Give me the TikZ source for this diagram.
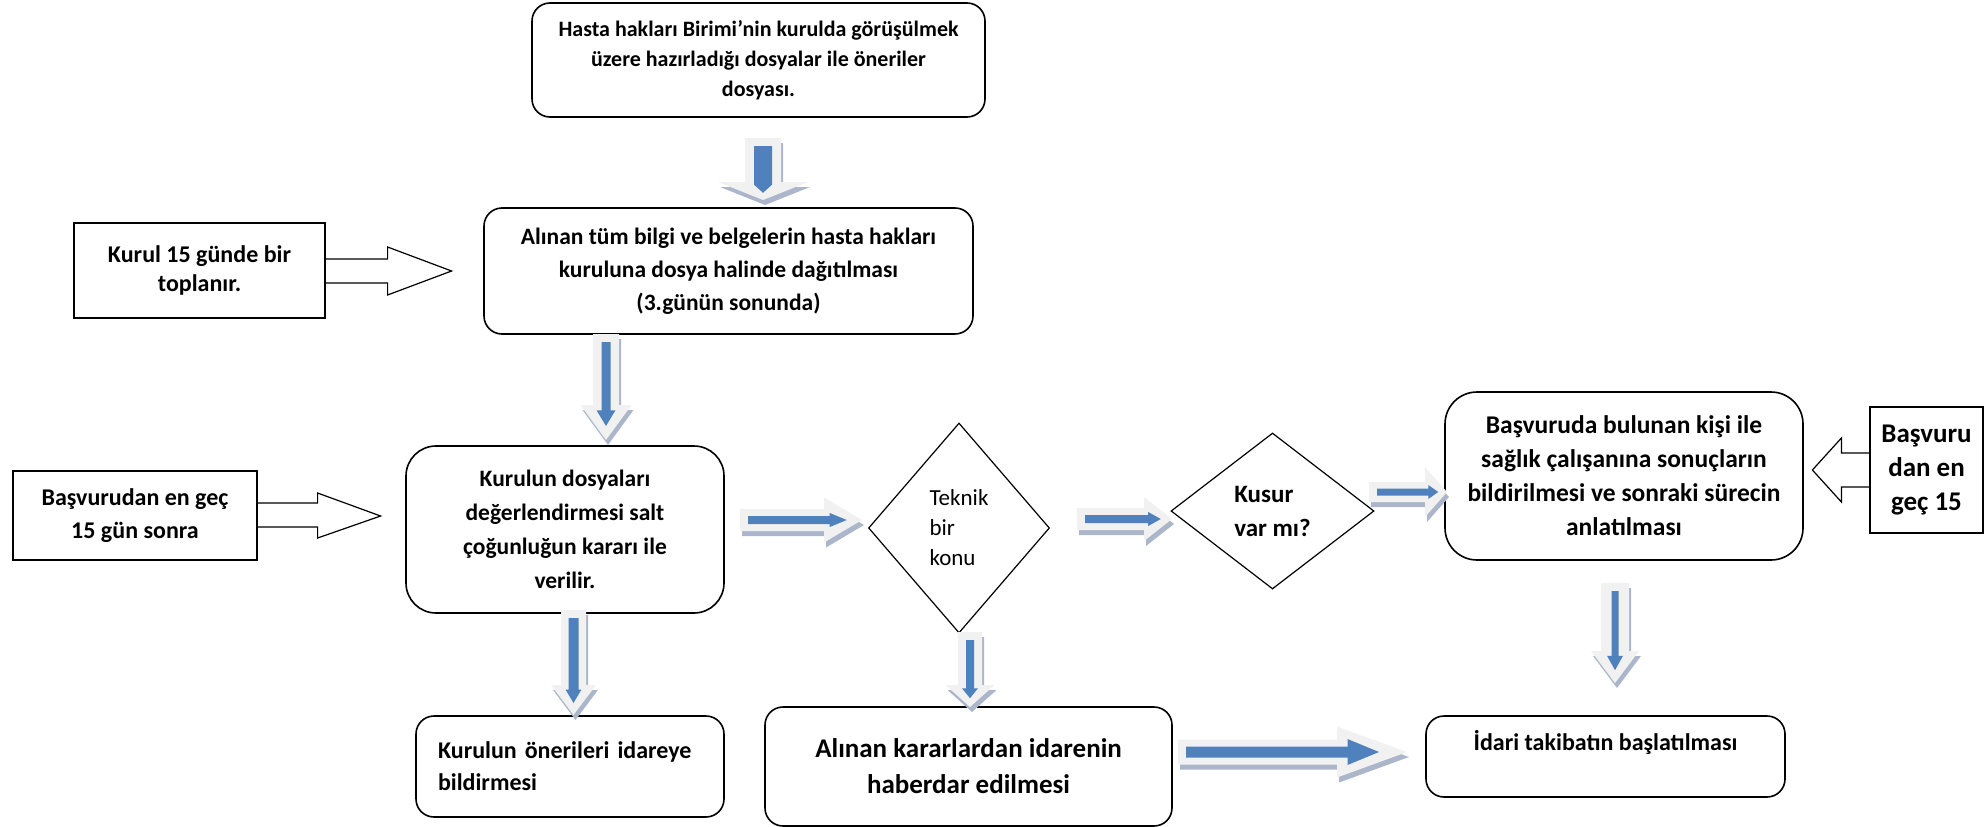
\documentclass[tikz,border=0pt]{standalone}
\usepackage{fontspec}
\setmainfont{Carlito}
\usetikzlibrary{shapes.geometric}

\definecolor{arrowblue}{RGB}{79,129,189}
\definecolor{arrowgrey}{RGB}{241,241,241}
\definecolor{arrowshade}{RGB}{172,182,202}

\newcommand{\blockpath}[5]{(#1,-#3) -- ({#2-#5},-#3) -- ({#2-#5},-#4) -- ({#2},0) -- ({#2-#5},#4) -- ({#2-#5},#3) -- (#1,#3) -- cycle}
\newcommand{\fatarrow}[8]{%
	\fill[arrowshade, shift={#1}, shift={(2,5)}, rotate=#2] \blockpath{0}{#3}{#4}{#5}{#6};
	\fill[arrowgrey, shift={#1}, rotate=#2] \blockpath{0}{#3}{#4}{#5}{#6};
	\fill[arrowblue, shift={#1}, rotate=#2] \blockpath{8}{#3-0.4*#6}{#7}{#8}{0.45*#6};
}
\newcommand{\txt}[2]{\fontsize{#1}{#2}\selectfont}

\begin{document}
\begin{tikzpicture}[x=1pt, y=-1pt,
	font=\bfseries\txt{23.5}{33},
	roundbox/.style={draw, line width=1.6pt, rounded corners=18pt, align=center, inner sep=0pt},
	notebox/.style={draw, line width=1.2pt, align=center, inner sep=0pt},
	noteline/.style={draw, line width=1.2pt, line join=miter},
	decision/.style={diamond, draw, line width=1.2pt, align=left, inner sep=0pt}]
	\useasboundingbox (0,0) rectangle (1986,827);

	\node [roundbox, minimum width=453pt, minimum height=114pt, font=\bfseries\txt{22}{30}] (dosya) at (758.5,60)
		{Hasta hakları Birimi’nin kurulda görüşülmek\\ üzere hazırladığı dosyalar ile öneriler\\ dosyası.};
	\node [roundbox, minimum width=489pt, minimum height=126pt] (dagitim) at (728.5,271)
		{Alınan tüm bilgi ve belgelerin hasta hakları\\ kuruluna dosya halinde dağıtılması\\ (3.günün sonunda)};
	\node [notebox, minimum width=251pt, minimum height=95pt, font=\bfseries\txt{24}{29}] (toplanti) at (199.5,270.5)
		{Kurul 15 günde bir\\ toplanır.};
	\node [roundbox, rounded corners=30pt, minimum width=318pt, minimum height=167pt, font=\bfseries\txt{23.5}{34}] (karar) at (565,529.5)
		{Kurulun dosyaları\\ değerlendirmesi salt\\ çoğunluğun kararı ile\\ verilir.};
	\node [notebox, minimum width=244pt, minimum height=89pt, font=\bfseries\txt{24}{33}] (sure) at (135,515.5)
		{Başvurudan en geç\\ 15 gün sonra};
	\node [decision, minimum width=181pt, minimum height=210pt, font=\txt{23}{30}] (teknik) at (959,528)
		{Teknik\\ bir\\ konu};
	\node [decision, minimum width=203pt, minimum height=156pt, font=\bfseries\txt{25}{34}] (kusur) at (1272.5,511)
		{Kusur\\ var mı?};
	\node [roundbox, rounded corners=32pt, minimum width=358pt, minimum height=168pt, font=\bfseries\txt{25.5}{34}] (bildirim) at (1624,476)
		{Başvuruda bulunan kişi ile\\ sağlık çalışanına sonuçların\\ bildirilmesi ve sonraki sürecin\\ anlatılması};
	\node [notebox, minimum width=113pt, minimum height=126pt, font=\bfseries\txt{27}{34}] (sure2) at (1926.5,470)
		{Başvuru\\ dan en\\ geç 15};
	\node [roundbox, align=left, text width=264pt, minimum width=308pt, minimum height=101pt, font=\bfseries\txt{24}{32}] (oneri) at (570,766.5)
		{Kurulun önerileri idareye\\ bildirmesi};
	\node [roundbox, minimum width=407pt, minimum height=119pt, font=\bfseries\txt{27}{36}] (haber) at (968.5,766.5)
		{Alınan kararlardan idarenin\\ haberdar edilmesi};
	\node [roundbox, minimum width=359pt, minimum height=81pt, font=\bfseries\txt{24}{33}] (takibat) at (1605.5,756.5)
		{İdari takibatın başlatılması\\ \mbox{}};

	\draw [noteline] (toplanti.east) ++(0,-11.5) -- ++(62,0) -- ++(0,-12) -- ++(64,24) -- ++(-64,24) -- ++(0,-12) -- ++(-62,0);
	\draw [noteline] (sure.east) ++(0,-12.5) -- ++(60,0) -- ++(0,-10) -- ++(63,23) -- ++(-63,22) -- ++(0,-11) -- ++(-60,0);
	\draw [noteline] (sure2.west) ++(0,-17) -- ++(-28,0) -- ++(0,-15) -- ++(-29,32) -- ++(29,32) -- ++(0,-15) -- ++(28,0);

	\coordinate (a1) at (763,138);
	\coordinate (a2) at (606,334);
	\coordinate (a3) at (573.5,610);
	\coordinate (a4) at (970,632);
	\coordinate (a5) at (1615,583);
	\coordinate (r1) at (740,520);
	\coordinate (r2) at (1077,519);
	\coordinate (r3) at (1369,492);
	\coordinate (r4) at (1178,752);

	\fatarrow{(a1)}{-90}{62}{18}{45}{18}{9}{9}
	\fatarrow{(a2)}{-90}{106}{13}{25.5}{35}{4.5}{9.5}
	\fatarrow{(a3)}{-90}{105}{12.5}{22.5}{30}{5}{8}
	\fatarrow{(a4)}{-90}{75}{12}{24.5}{22}{4}{8}
	\fatarrow{(a5)}{-90}{100}{14}{24}{32}{3.5}{8}
	\fatarrow{(r1)}{0}{122}{11}{22.5}{38}{4}{7}
	\fatarrow{(r2)}{0}{95}{11}{22}{28}{4}{7}
	\fatarrow{(r3)}{0}{78}{10}{25}{22}{3.5}{7}
	\fatarrow{(r4)}{0}{229}{12.5}{25.5}{70}{5.5}{13}
\end{tikzpicture}
\end{document}
